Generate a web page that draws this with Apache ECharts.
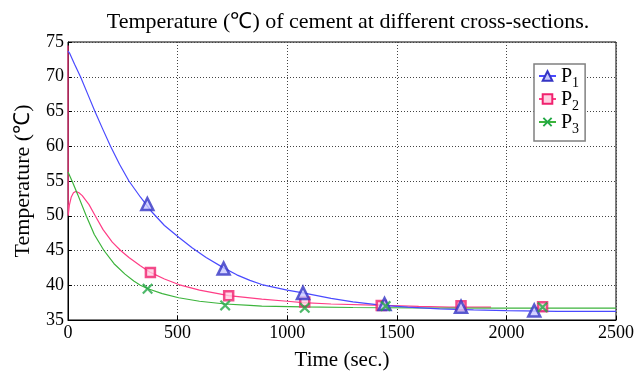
<!DOCTYPE html>
<html>
<head>
<meta charset="utf-8">
<script src="https://cdn.jsdelivr.net/npm/echarts@6/dist/echarts.min.js"></script>
<style>html,body{margin:0;padding:0;background:#fff;}#c{width:639px;height:376px;}</style>
</head>
<body>
<div id="c"></div>
<script>
// ---- data ----
const titleText = 'Temperature (℃) of cement at different cross-sections.';
const xName = 'Time (sec.)';
const yName = 'Temperature (℃)';
const seriesNames = ['P1', 'P2', 'P3'];
const xTicks = [0, 500, 1000, 1500, 2000, 2500];
const yTicks = [35, 40, 45, 50, 55, 60, 65, 70, 75];

// fitted curves (time, temperature)
const p1Curve = [[0,73.7],[7,73.4],[30,71.8],[57,70.0],[90,67.5],[123,65.0],[158,62.5],[194,60.0],[235,57.4],[278,55.0],[330,52.7],[384,50.5],[440,48.6],[505,46.9],[566,45.4],[630,44.0],[710,42.5],[770,41.5],[830,40.7],[884,40.1],[1000,39.3],[1072,38.9],[1200,38.1],[1300,37.6],[1437,37.1],[1550,36.85],[1695,36.6],[1850,36.45],[2000,36.35],[2233,36.25],[2500,36.25]];
const p2Curve = [[0,74.5],[1,50.0],[6,51.5],[15,52.7],[25,53.3],[35,53.5],[50,53.3],[65,52.9],[96,51.6],[126,49.9],[160,48.0],[202,46.2],[240,45.0],[278,44.0],[330,42.8],[376,41.85],[440,40.9],[505,40.1],[600,39.3],[733,38.5],[884,38.0],[1000,37.7],[1072,37.5],[1200,37.3],[1437,37.1],[1600,36.95],[1740,36.85],[1930,36.85]];
const p3Curve = [[0,56.3],[20,54.9],[45,53.0],[83,50.0],[120,47.3],[164,45.0],[210,43.1],[260,41.6],[300,40.6],[330,40.0],[365,39.5],[430,38.8],[505,38.2],[600,37.7],[717,37.3],[830,37.1],[884,37.0],[1072,36.9],[1300,36.8],[1600,36.75],[2000,36.72],[2500,36.72]];

// measured points (markers)
const p1Points = [[362,51.7],[710,42.4],[1072,38.9],[1444,37.3],[1793,36.9],[2127,36.35]];
const p2Points = [[376,41.85],[733,38.5],[1080,37.6],[1429,37.1],[1793,37.05],[2165,36.9]];
const p3Points = [[363,39.5],[717,37.1],[1080,36.75],[1449,37.0],[2165,36.85]];

// ---- styling ----
const FONT = 'Liberation Serif';
const blueLine = '#4a4aff', blueMark = '#3535c4', blueFill = '#c8c8ff';
const pinkLine = '#ff3d86', pinkMark = '#f0216e', pinkFill = '#ffd0e2';
const greenLine = '#3cb43c', greenMark = '#22a845';
const xSymbol = 'path://M0,1.4 L1.4,0 L5,3.6 L8.6,0 L10,1.4 L6.4,5 L10,8.6 L8.6,10 L5,6.4 L1.4,10 L0,8.6 L3.6,5 Z';

const chart = echarts.init(document.getElementById('c'));
const option = {
  animation: false,
  backgroundColor: '#fff',
  title: {
    text: titleText,
    left: 343, top: 6, textAlign: 'center',
    textStyle: { fontFamily: FONT, fontSize: 22, fontWeight: 'normal', color: '#000' }
  },
  legend: {
    orient: 'vertical', left: 534, top: 64,
    data: seriesNames,
    backgroundColor: '#fff', borderColor: '#808080', borderWidth: 1.5,
    padding: [3, 6, 5, 4], itemGap: 0, itemWidth: 17, itemHeight: 12,
    textStyle: {
      fontFamily: FONT, color: '#000',
      rich: {
        p: { fontFamily: FONT, fontSize: 20, lineHeight: 18, verticalAlign: 'top', color: '#000' },
        s: { fontFamily: FONT, fontSize: 14, lineHeight: 13, padding: [9, 0, 0, 0], verticalAlign: 'top', color: '#000' }
      }
    },
    formatter: function (n) { return '{p|' + n.charAt(0) + '}{s|' + n.slice(1) + '}'; }
  },
  grid: { left: 68, right: 23, top: 42, bottom: 46, show: true, borderColor: '#000', borderWidth: 1, backgroundColor: '#fff' },
  xAxis: {
    type: 'value', min: xTicks[0], max: xTicks[xTicks.length - 1], interval: 500,
    name: xName, nameLocation: 'middle', nameGap: 30,
    nameTextStyle: { fontFamily: FONT, fontSize: 21, color: '#000' },
    axisLine: { show: true, lineStyle: { color: '#000', width: 1 } },
    axisTick: { show: true, inside: true, length: 4, lineStyle: { color: '#000' } },
    axisLabel: { fontFamily: FONT, fontSize: 18, color: '#000', margin: 4, formatter: function (v) { return String(v); } },
    splitLine: { show: true, lineStyle: { color: '#444', type: [1, 2], width: 1 } }
  },
  yAxis: {
    type: 'value', min: yTicks[0], max: yTicks[yTicks.length - 1], interval: 5,
    name: yName, nameLocation: 'middle', nameGap: 34,
    nameTextStyle: { fontFamily: FONT, fontSize: 22, color: '#000' },
    axisLine: { show: true, lineStyle: { color: '#000', width: 1 } },
    axisTick: { show: true, inside: true, length: 4, lineStyle: { color: '#000' } },
    axisLabel: { fontFamily: FONT, fontSize: 18, color: '#000', margin: 4 },
    splitLine: { show: true, lineStyle: { color: '#444', type: [1, 2], width: 1 } }
  },
  series: [
    { name: 'P1', type: 'line', data: p1Curve, smooth: false, showSymbol: false, symbol: 'triangle', symbolSize: 11,
      lineStyle: { color: blueLine, width: 1.2 }, itemStyle: { color: blueFill, borderColor: blueMark, borderWidth: 2 }, z: 3 },
    { name: 'P2', type: 'line', data: p2Curve, smooth: false, showSymbol: false, symbol: 'rect', symbolSize: 9,
      lineStyle: { color: pinkLine, width: 1.2 }, itemStyle: { color: pinkFill, borderColor: pinkMark, borderWidth: 2 }, z: 2 },
    { name: 'P3', type: 'line', data: p3Curve, smooth: false, showSymbol: false, symbol: xSymbol, symbolSize: 10,
      lineStyle: { color: greenLine, width: 1.2 }, itemStyle: { color: greenMark }, z: 2 },
    { name: 'P2m', type: 'scatter', data: p2Points, symbol: 'rect', symbolSize: 9,
      itemStyle: { color: pinkFill, borderColor: pinkMark, borderWidth: 2.5 }, z: 4 },
    { name: 'P1m', type: 'scatter', data: p1Points, symbol: 'triangle', symbolSize: 12,
      itemStyle: { color: blueFill, borderColor: blueMark, borderWidth: 2.5 }, z: 5 },
    { name: 'P3m', type: 'scatter', data: p3Points, symbol: xSymbol, symbolSize: 11,
      itemStyle: { color: greenMark }, z: 6 }
  ]
};
chart.setOption(option);
</script>
</body>
</html>
